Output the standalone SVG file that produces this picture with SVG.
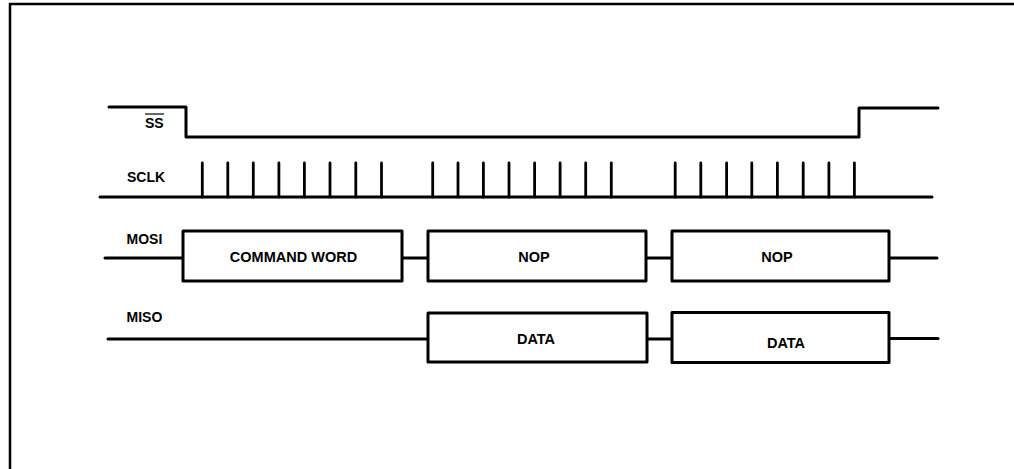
<svg xmlns="http://www.w3.org/2000/svg" width="1014" height="469" viewBox="0 0 1014 469">
<style>
.sig{fill:none;stroke:#000;stroke-width:3;stroke-linejoin:round;stroke-linecap:round}
.tick{stroke:#000;stroke-width:2.8;stroke-linecap:round}
.box{fill:#fff;stroke:#000;stroke-width:3;stroke-linejoin:round}
.lbl{font-family:"Liberation Sans",Arial,sans-serif;font-size:14px;font-weight:bold;fill:#000}
.txt{font-family:"Liberation Sans",Arial,sans-serif;font-size:14.5px;font-weight:bold;fill:#000;text-anchor:middle}
</style>
<rect x="0" y="0" width="1014" height="469" fill="#fff"/>
<path d="M10,470 V4 H1016" fill="none" stroke="#000" stroke-width="2.5"/>
<g id="labels">
<text class="lbl" x="145" y="128.3">SS</text>
<line x1="145" y1="114" x2="164" y2="114" stroke="#000" stroke-width="1.2"/>
<text class="lbl" x="127" y="182.3">SCLK</text>
<text class="lbl" x="126.5" y="244.3">MOSI</text>
<text class="lbl" x="126.5" y="321.7">MISO</text>
</g>
<g id="connectors">
<path class="sig" d="M109,107 H186 V137 H859 V108 H938"/>
<path class="sig" d="M100,197 H932"/>
<g id="sclk-ticks">
<line class="tick" x1="202.3" y1="163" x2="202.3" y2="197"/>
<line class="tick" x1="227.8" y1="163" x2="227.8" y2="197"/>
<line class="tick" x1="253.3" y1="163" x2="253.3" y2="197"/>
<line class="tick" x1="278.9" y1="163" x2="278.9" y2="197"/>
<line class="tick" x1="304.4" y1="163" x2="304.4" y2="197"/>
<line class="tick" x1="330" y1="163" x2="330" y2="197"/>
<line class="tick" x1="355.8" y1="163" x2="355.8" y2="197"/>
<line class="tick" x1="381.5" y1="163" x2="381.5" y2="197"/>
<line class="tick" x1="432.7" y1="163" x2="432.7" y2="197"/>
<line class="tick" x1="458" y1="163" x2="458" y2="197"/>
<line class="tick" x1="483.4" y1="163" x2="483.4" y2="197"/>
<line class="tick" x1="509" y1="163" x2="509" y2="197"/>
<line class="tick" x1="534.6" y1="163" x2="534.6" y2="197"/>
<line class="tick" x1="560.1" y1="163" x2="560.1" y2="197"/>
<line class="tick" x1="585.7" y1="163" x2="585.7" y2="197"/>
<line class="tick" x1="611.3" y1="163" x2="611.3" y2="197"/>
<line class="tick" x1="675.2" y1="163" x2="675.2" y2="197"/>
<line class="tick" x1="700.8" y1="163" x2="700.8" y2="197"/>
<line class="tick" x1="726.6" y1="163" x2="726.6" y2="197"/>
<line class="tick" x1="751.8" y1="163" x2="751.8" y2="197"/>
<line class="tick" x1="777.4" y1="163" x2="777.4" y2="197"/>
<line class="tick" x1="803.2" y1="163" x2="803.2" y2="197"/>
<line class="tick" x1="828.9" y1="163" x2="828.9" y2="197"/>
<line class="tick" x1="854.4" y1="163" x2="854.4" y2="197"/>
</g>
<path class="sig" d="M105,258 H183"/>
<path class="sig" d="M402,258 H427"/>
<path class="sig" d="M646,258 H672"/>
<path class="sig" d="M889,258 H937"/>
<path class="sig" d="M108,339 H427"/>
<path class="sig" d="M647,339 H672"/>
<path class="sig" d="M889,338.5 H938"/>
</g>
<g id="mosi-cmd">
<rect class="box" x="183" y="231" width="219" height="50"/>
<text class="txt" x="293.5" y="262.3">COMMAND WORD</text>
</g>
<g id="mosi-nop1">
<rect class="box" x="428" y="231" width="218" height="50"/>
<text class="txt" x="534" y="262">NOP</text>
</g>
<g id="mosi-nop2">
<rect class="box" x="672" y="231" width="217" height="50"/>
<text class="txt" x="777" y="262">NOP</text>
</g>
<g id="miso-data1">
<rect class="box" x="428" y="313" width="219" height="49"/>
<text class="txt" x="536" y="344">DATA</text>
</g>
<g id="miso-data2">
<rect class="box" x="672" y="312.5" width="217" height="50"/>
<text class="txt" x="786" y="348">DATA</text>
</g>
</svg>
